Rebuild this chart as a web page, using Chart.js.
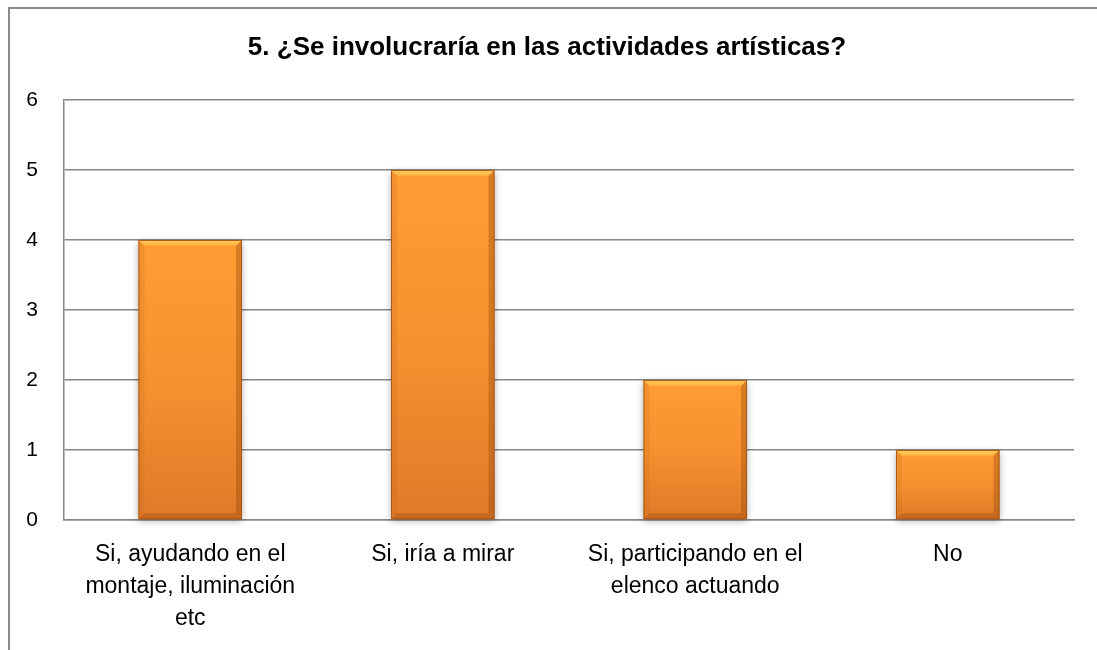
<!DOCTYPE html>
<html>
<head>
<meta charset="utf-8">
<script src="https://cdn.jsdelivr.net/npm/chart.js@4/dist/chart.umd.min.js"></script>
<style>
  body { margin: 0; background: #fff; overflow: hidden; }
  #wrap { position: relative; width: 1097px; height: 650px; }
  #frame { position: absolute; left: 8px; top: 7px; width: 1200px; height: 800px;
           border-left: 2px solid #8c8c8c; border-top: 2px solid #8c8c8c; }
  canvas { position: absolute; left: 0; top: 0; }
</style>
</head>
<body>
<div id="wrap">
  <div id="frame"></div>
  <canvas id="chart" width="1097" height="650"></canvas>
</div>
<script>
const titulo = '5. ¿Se involucraría en las actividades artísticas?';
const categorias = [
  ['Si, ayudando en el', 'montaje, iluminación', 'etc'],
  'Si, iría a mirar',
  ['Si, participando en el', 'elenco actuando'],
  'No'
];
const respuestas = [4, 5, 2, 1];
const marcasY = [0, 1, 2, 3, 4, 5, 6];

const fuente = "'Liberation Sans', Arial, sans-serif";

// relieve de las barras: sombra, degradado vertical, biseles y borde
const bisel = {
  id: 'bisel',
  afterDatasetsDraw(chart) {
    const ctx = chart.ctx;
    chart.getDatasetMeta(0).data.forEach(bar => {
      const { x, y, base, width } = bar.getProps(['x', 'y', 'base', 'width'], true);
      const l = x - width / 2, r = x + width / 2, h = base - y;
      const b = 6;
      ctx.save();
      ctx.shadowColor = 'rgba(0,0,0,0.35)';
      ctx.shadowBlur = 7;
      ctx.shadowOffsetY = 2;
      const g = ctx.createLinearGradient(0, y, 0, base);
      g.addColorStop(0, '#ff9d33');
      g.addColorStop(0.5, '#f79130');
      g.addColorStop(1, '#e07a28');
      ctx.fillStyle = g;
      ctx.fillRect(l, y, width, h);
      ctx.restore();

      ctx.save();
      const poly = (pts, fill) => {
        ctx.fillStyle = fill;
        ctx.beginPath();
        ctx.moveTo(pts[0][0], pts[0][1]);
        pts.slice(1).forEach(p => ctx.lineTo(p[0], p[1]));
        ctx.closePath();
        ctx.fill();
      };
      const gt = ctx.createLinearGradient(0, y, 0, y + b);
      gt.addColorStop(0, '#ffd25e');
      gt.addColorStop(1, '#ffab3e');
      poly([[l, y], [r, y], [r - b, y + b], [l + b, y + b]], gt);
      poly([[l, base], [r, base], [r - b, base - b], [l + b, base - b]], 'rgba(150,70,15,0.35)');
      poly([[r, y], [r, base], [r - b, base - b], [r - b, y + b]], 'rgba(140,65,10,0.35)');
      poly([[l, y], [l, base], [l + b, base - b], [l + b, y + b]], 'rgba(190,100,25,0.18)');
      ctx.strokeStyle = 'rgba(165,85,20,0.9)';
      ctx.lineWidth = 1;
      ctx.strokeRect(l + 0.5, y + 0.5, width - 1, h - 1);
      ctx.restore();
    });
  }
};

new Chart(document.getElementById('chart'), {
  type: 'bar',
  data: {
    labels: categorias,
    datasets: [{
      data: respuestas,
      backgroundColor: 'rgba(0,0,0,0)',
      borderWidth: 0,
      categoryPercentage: 1,
      barPercentage: 0.41
    }]
  },
  plugins: [bisel],
  options: {
    responsive: false,
    animation: false,
    events: [],
    layout: { padding: { left: 20, right: 23, top: 0, bottom: 0 } },
    plugins: {
      legend: { display: false },
      tooltip: { enabled: false },
      title: {
        display: true,
        text: titulo,
        color: '#000',
        font: { family: fuente, size: 26, weight: 'bold', lineHeight: 1.2 },
        padding: { top: 32, bottom: 36.8 }
      }
    },
    scales: {
      x: {
        grid: { display: false, drawTicks: false },
        border: { display: true, color: '#868686', width: 1.5 },
        ticks: { color: '#000', font: { family: fuente, size: 23, lineHeight: '32px' }, padding: 19, maxRotation: 0 },
        afterFit(scale) { scale.height = 130; }
      },
      y: {
        min: 0,
        max: 6,
        afterBuildTicks(scale) { scale.ticks = marcasY.map(v => ({ value: v })); },
        grid: { color: '#868686', lineWidth: 1.5, drawTicks: false },
        border: { display: true, color: '#868686', width: 1.5 },
        ticks: { color: '#000', font: { family: fuente, size: 21 }, padding: 26 },
        afterFit(scale) { scale.width = 44; }
      }
    }
  }
});
</script>
</body>
</html>
